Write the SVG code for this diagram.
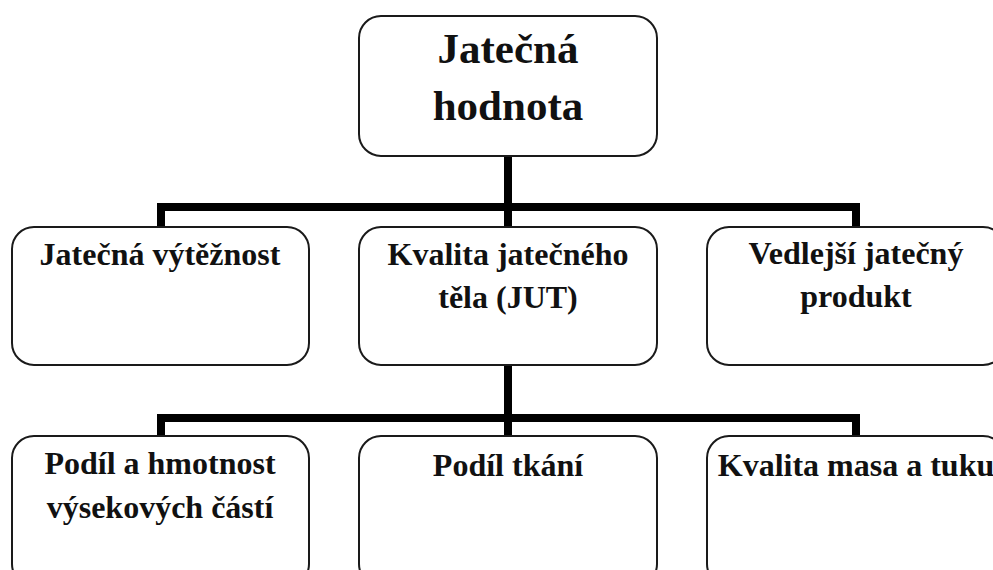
<svg xmlns="http://www.w3.org/2000/svg" width="993" height="570" viewBox="0 0 993 570">
<style>
.box{fill:#fff;stroke:#1a1a1a;stroke-width:2}
.t{font-family:"Liberation Serif","Times New Roman",serif;font-weight:bold;fill:#111;text-anchor:middle}
.t2{font-size:32px}
.t1{font-size:43px}
.c{stroke:#000;stroke-width:8;fill:none}
</style>
<rect width="993" height="570" fill="#fff"/>
<g id="connectors">
<line class="c" x1="508" y1="156" x2="508" y2="227"/>
<polyline class="c" points="161,227 161,207 856,207 856,227"/>
<line class="c" x1="508" y1="365" x2="508" y2="436"/>
<polyline class="c" points="161,436 161,418 856,418 856,436"/>
</g>
<g id="root">
<rect class="box" x="359" y="16" width="298" height="140" rx="22"/>
<text class="t t1" x="508" y="63">Jatečná</text>
<text class="t t1" x="508" y="120">hodnota</text>
</g>
<g id="vytěžnost">
<rect class="box" x="12" y="227" width="297" height="138" rx="22"/>
<text class="t t2" x="160" y="265">Jatečná výtěžnost</text>
</g>
<g id="jut">
<rect class="box" x="359" y="227" width="298" height="138" rx="22"/>
<text class="t t2" x="508" y="265">Kvalita jatečného</text>
<text class="t t2" x="508" y="308">těla (JUT)</text>
</g>
<g id="vedlejsi">
<rect class="box" x="707" y="227" width="298" height="138" rx="22"/>
<text class="t t2" x="856" y="264">Vedlejší jatečný</text>
<text class="t t2" x="856" y="307">produkt</text>
</g>
<g id="podil-hmotnost">
<rect class="box" x="12" y="436" width="297" height="150" rx="22"/>
<text class="t t2" x="160" y="474">Podíl a hmotnost</text>
<text class="t t2" x="160" y="518">výsekových částí</text>
</g>
<g id="podil-tkani">
<rect class="box" x="359" y="436" width="298" height="150" rx="22"/>
<text class="t t2" x="508" y="476">Podíl tkání</text>
</g>
<g id="kvalita-masa">
<rect class="box" x="707" y="436" width="298" height="150" rx="22"/>
<text class="t t2" x="856" y="476">Kvalita masa a tuku</text>
</g>
</svg>
